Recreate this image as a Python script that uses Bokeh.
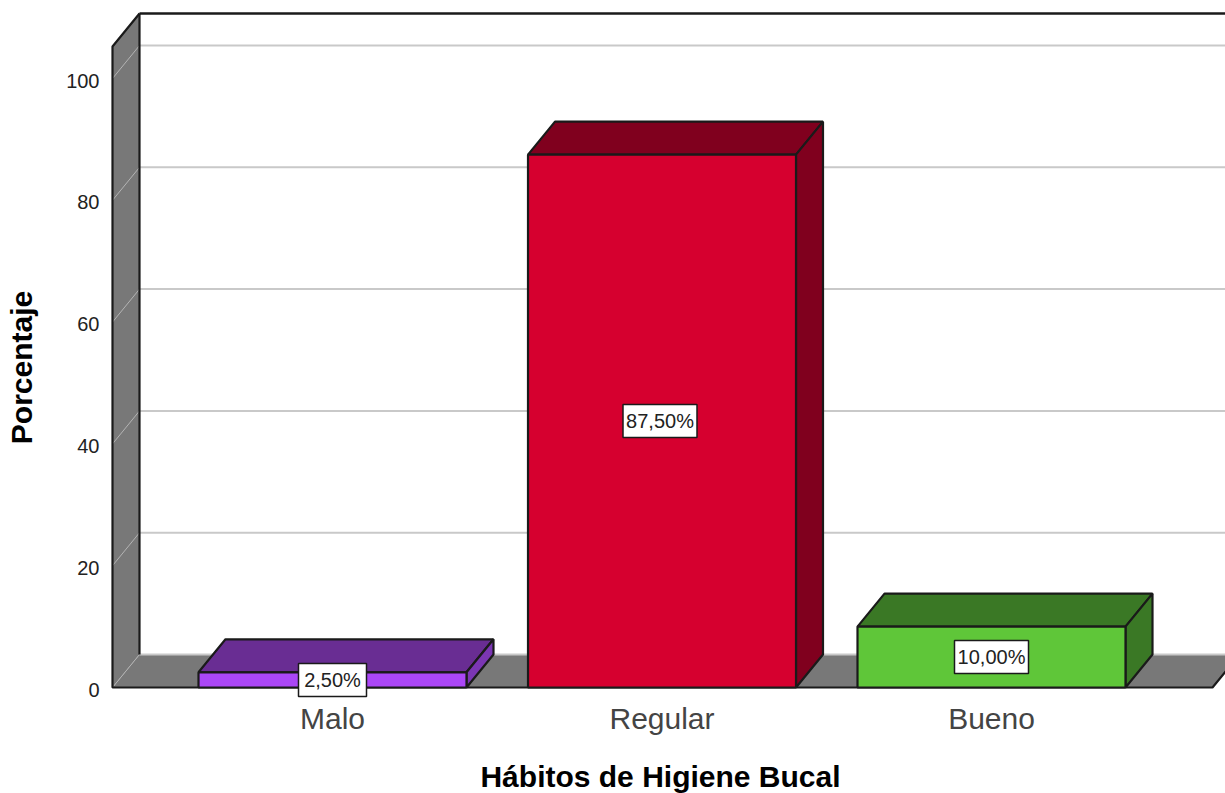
from bokeh.plotting import figure
from bokeh.models import Range1d, LinearAxis, FixedTicker
from bokeh.core.properties import value
from bokeh.embed import file_html
from bokeh.resources import INLINE

categories = ["Malo", "Regular", "Bueno"]
positions = [0, 1, 2]
values = [2.5, 87.5, 10.0]
labels = ["2,50%", "87,50%", "10,00%"]
label_shift_px = [0, -2, 0]
front_colors = ["#AB47F7", "#D6002F", "#5FC639"]
top_colors = ["#692D93", "#80001E", "#3A7825"]
side_colors = ["#7B36B3", "#80001E", "#3A7825"]
y_ticks = [0, 20, 40, 60, 80, 100]

FONT = "Liberation Sans"
DARK = "#1A1A1A"
GRID = "#C9C9C9"
WALL = "#787878"

PX_X = 329.5
PX_Y = 6.09
bar_w = 268 / PX_X
dx = 27 / PX_X
dy = 33 / PX_Y
x_left = (112 - 332) / PX_X
x_right = (1212 - 332) / PX_X
y_top = (687 - 46) / PX_Y

F_L, F_R, F_T, F_B = 95, 1225, 8, 726
W, H = 1225, 793
x_range = Range1d((F_L - 332) / PX_X, (F_R - 332) / PX_X)
y_range = Range1d(-(F_B - 687) / PX_Y, (687 - F_T) / PX_Y)

p = figure(width=W, height=H, output_backend="svg", toolbar_location=None,
           x_range=x_range, y_range=y_range, y_axis_location=None,
           frame_width=F_R - F_L, frame_height=F_B - F_T,
           min_border_left=F_L, min_border_right=W - F_R,
           min_border_top=F_T, min_border_bottom=H - F_B,
           outline_line_color=None, background_fill_color="white")
p.xgrid.visible = False
p.ygrid.visible = False

# left wall and floor
p.patch([x_left, x_left, x_left + dx, x_left + dx], [0, y_top, y_top + dy, dy],
        fill_color=WALL, line_color=None)
p.patch([x_left, x_left + dx, x_right + dx, x_right], [0, dy, dy, 0],
        fill_color=WALL, line_color=None)

# gridlines on wall and back plane
for v in y_ticks:
    p.line([x_left, x_left + dx], [v, v + dy], line_color="#B4B4B4", line_width=1)
    p.line([x_left + dx, x_right + dx], [v + dy, v + dy], line_color=GRID, line_width=2)

# wall / floor outline
p.line([x_left + dx, x_left, x_left, x_right, x_right + dx], [y_top + dy, y_top, 0, 0, dy],
       line_color=DARK, line_width=2.2)
p.line([x_left + dx, x_left + dx], [dy, y_top + dy], line_color=DARK, line_width=2.2)
p.line([x_left + dx, x_right + dx], [y_top + dy, y_top + dy], line_color=DARK, line_width=2.5)

# bars
for c, v, fc, tc, sc in zip(positions, values, front_colors, top_colors, side_colors):
    l, r = c - bar_w / 2, c + bar_w / 2
    p.patch([l, l + dx, r + dx, r], [v, v + dy, v + dy, v], fill_color=tc, line_color=DARK, line_width=2.2)
    p.patch([r, r + dx, r + dx, r], [0, dy, v + dy, v], fill_color=sc, line_color=DARK, line_width=2.2)
    p.quad(left=l, right=r, bottom=0, top=v, fill_color=fc, line_color=DARK, line_width=2.2)

# value labels
centers = [v / 2 for v in values]
label_x = [c + s / PX_X for c, s in zip(positions, label_shift_px)]
p.rect(label_x, centers, width=[68, 74, 74], height=33, width_units="screen", height_units="screen",
       fill_color="white", line_color=DARK, line_width=1.5)
p.text(label_x, centers, text=labels, text_align="center", text_baseline="middle",
       text_font=value(FONT), text_font_size="20px", text_color="#222222")

# axes
p.extra_y_ranges = {"ticks": Range1d(y_range.start + 2 / PX_Y, y_range.end + 2 / PX_Y)}
ya = LinearAxis(y_range_name="ticks", ticker=FixedTicker(ticks=y_ticks), axis_label="Porcentaje")
ya.axis_line_color = None
ya.major_tick_line_color = None
ya.minor_tick_line_color = None
ya.major_label_standoff = -10
ya.major_label_text_font = FONT
ya.major_label_text_font_size = "20px"
ya.major_label_text_color = "#222222"
ya.axis_label_text_font = FONT
ya.axis_label_text_font_size = "30px"
ya.axis_label_text_font_style = "bold"
ya.axis_label_text_color = "black"
ya.axis_label_standoff = 25
p.add_layout(ya, "left")

xa = p.xaxis[0]
xa.ticker = FixedTicker(ticks=positions)
xa.major_label_overrides = dict(zip(positions, categories))
xa.axis_line_color = None
xa.major_tick_line_color = None
xa.minor_tick_line_color = None
xa.major_label_standoff = -31
xa.major_label_text_font = FONT
xa.major_label_text_font_size = "30px"
xa.major_label_text_color = "#444444"
xa.axis_label = "Hábitos de Higiene Bucal"
xa.axis_label_text_font = FONT
xa.axis_label_text_font_size = "30px"
xa.axis_label_text_font_style = "bold"
xa.axis_label_text_color = "black"
xa.axis_label_standoff = 22

open("out.html", "w").write(file_html(p, INLINE))
